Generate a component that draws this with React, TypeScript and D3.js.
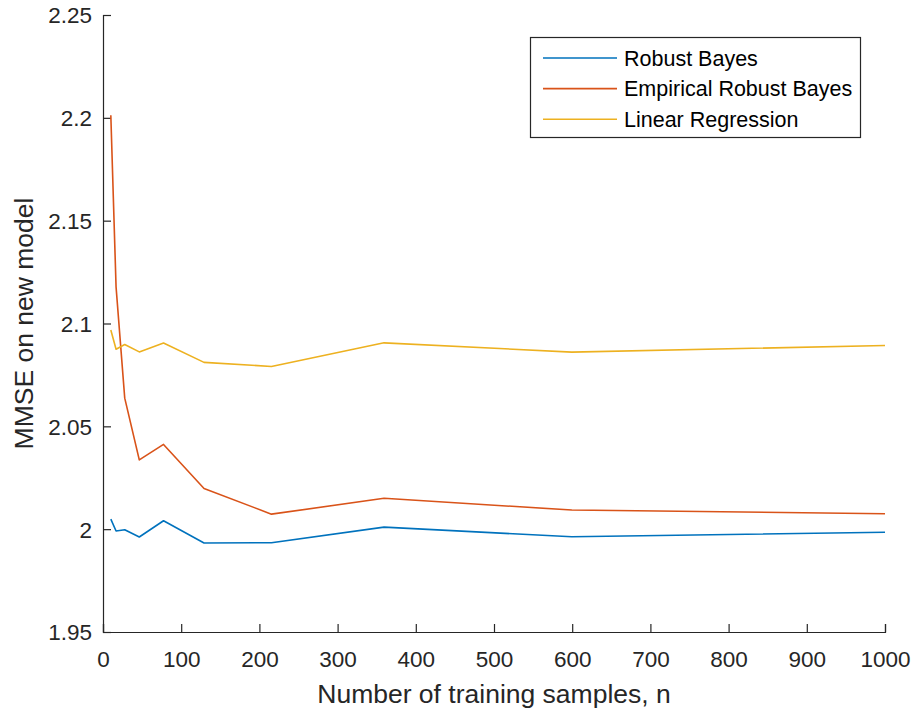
import React, { useEffect, useRef } from "react";
import * as d3 from "d3";

// training sizes (x) and MMSE for each method
const sampleSizes = [10, 16.7, 27.8, 46.4, 77.4, 129.2, 215.4, 359.4, 599.5, 1000];
const robustBayes = [2.0049, 1.9991, 1.9997, 1.9962, 2.0041, 1.9933, 1.9934, 2.001, 1.9963, 1.9985];
const empiricalRobustBayes = [2.2013, 2.1178, 2.0637, 2.0337, 2.0412, 2.0198, 2.0073, 2.015, 2.0093, 2.0075];
const linearRegression = [2.0968, 2.0875, 2.0898, 2.0862, 2.0905, 2.0811, 2.0791, 2.0906, 2.0861, 2.0893];

const seriesNames = ["Robust Bayes", "Empirical Robust Bayes", "Linear Regression"];
const seriesColors = ["#0072BD", "#D95319", "#EDB120"];

const xTicks = [0, 100, 200, 300, 400, 500, 600, 700, 800, 900, 1000];
const yTicks = [1.95, 2, 2.05, 2.1, 2.15, 2.2, 2.25];

const App = () => {
    const svgRef = useRef<SVGSVGElement>(null);

    useEffect(() => {
        const svg = d3.select(svgRef.current);
        svg.selectAll("*").remove();

        const width = 912;
        const height = 708;
        const left = 103, right = 885, top = 15, bottom = 632;
        const axisColor = "#262626";
        const font = "'Liberation Sans', Arial, sans-serif";

        svg.attr("width", width).attr("height", height);

        const x = d3.scaleLinear().domain([0, 1000]).range([left, right]);
        const y = d3.scaleLinear().domain([1.95, 2.25]).range([bottom, top]);

        // axes
        const xAxis = svg
            .append("g")
            .attr("transform", `translate(0, ${bottom})`)
            .call(d3.axisBottom(x).tickValues(xTicks).tickSize(-8).tickFormat(d3.format("d")));
        const yAxis = svg
            .append("g")
            .attr("transform", `translate(${left}, 0)`)
            .call(d3.axisLeft(y).tickValues(yTicks).tickSize(-8).tickFormat((d) => String(d)));

        [xAxis, yAxis].forEach((g) => {
            g.select(".domain").attr("stroke", axisColor).attr("stroke-width", 1.2);
            g.selectAll(".tick line").attr("stroke", axisColor).attr("stroke-width", 1.2);
            g.selectAll(".tick text")
                .attr("fill", axisColor)
                .style("font-family", font)
                .style("font-size", "22.5px");
        });
        xAxis.selectAll(".tick text").attr("y", 35).attr("dy", 0);
        yAxis.selectAll(".tick text").attr("x", -11).attr("dy", "0.35em");

        // axis labels
        svg.append("text")
            .attr("x", (left + right) / 2)
            .attr("y", 703)
            .attr("text-anchor", "middle")
            .attr("fill", axisColor)
            .style("font-family", font)
            .style("font-size", "26.5px")
            .text("Number of training samples, n");

        svg.append("text")
            .attr("transform", `translate(33, ${(top + bottom) / 2}) rotate(-90)`)
            .attr("text-anchor", "middle")
            .attr("fill", axisColor)
            .style("font-family", font)
            .style("font-size", "26.5px")
            .text("MMSE on new model");

        // lines
        const allSeries = [robustBayes, empiricalRobustBayes, linearRegression];
        const line = d3
            .line<number>()
            .x((d, i) => x(sampleSizes[i]))
            .y((d) => y(d));

        allSeries.forEach((values, i) => {
            svg.append("path")
                .datum(values)
                .attr("d", line)
                .attr("fill", "none")
                .attr("stroke", seriesColors[i])
                .attr("stroke-width", 1.6)
                .attr("stroke-linejoin", "round");
        });

        // legend
        const legend = svg.append("g");
        legend.append("rect")
            .attr("x", 530.5)
            .attr("y", 37.5)
            .attr("width", 330)
            .attr("height", 100)
            .attr("fill", "white")
            .attr("stroke", axisColor)
            .attr("stroke-width", 1.2);

        seriesNames.forEach((name, i) => {
            const cy = 58 + i * 30.6;
            legend.append("line")
                .attr("x1", 543)
                .attr("x2", 617)
                .attr("y1", cy)
                .attr("y2", cy)
                .attr("stroke", seriesColors[i])
                .attr("stroke-width", 1.6);
            legend.append("text")
                .attr("x", 624)
                .attr("y", cy + 7.5)
                .attr("fill", "#000")
                .style("font-family", font)
                .style("font-size", "21.5px")
                .text(name);
        });
    }, []);

    return (
        <div style={{ position: "absolute", left: 0, top: 0 }}>
            <svg ref={svgRef} style={{ display: "block", background: "white" }}></svg>
        </div>
    );
};

export default App;
